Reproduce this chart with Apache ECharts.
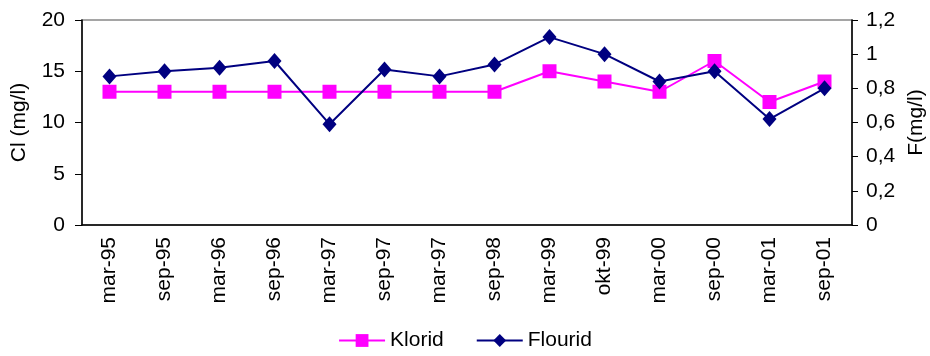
<!DOCTYPE html>
<html>
<head>
<meta charset="utf-8">
<script src="https://cdn.jsdelivr.net/npm/echarts@6/dist/echarts.min.js"></script>
<style>html,body{margin:0;padding:0;background:#fff}#c{width:930px;height:356px}</style>
</head>
<body>
<div id="c"></div>
<script>
const categories = ['mar-95','sep-95','mar-96','sep-96','mar-97','sep-97','mar-97','sep-98','mar-99','okt-99','mar-00','sep-00','mar-01','sep-01'];
const klorid = [13,13,13,13,13,13,13,13,15,14,13,16,12,14];
const flourid = [0.87,0.90,0.92,0.96,0.59,0.91,0.87,0.94,1.10,1.00,0.84,0.90,0.62,0.80];
const leftTicks = {min:0, max:20, interval:5};
const rightTicks = {min:0, max:1.2, interval:0.2};

const FONT = 'Liberation Sans, Arial, sans-serif';
const FS = 21;
const chart = echarts.init(document.getElementById('c'));
const axisTxt = {color:'#000', fontFamily:FONT, fontSize:FS};
chart.setOption({
  animation:false,
  grid:{left:82, right:78, top:20, bottom:131, show:true, borderColor:'#888', borderWidth:1.5, outerBoundsMode:'none', containLabel:false},
  legend:{
    bottom:0, left:'center', itemWidth:46, itemHeight:16, itemGap:32,
    textStyle:{color:'#000', fontFamily:FONT, fontSize:FS},
    data:['Klorid','Flourid']
  },
  xAxis:{
    type:'category', data:categories, boundaryGap:true,
    axisLine:{lineStyle:{color:'#000', width:1.5}},
    axisTick:{length:7, lineStyle:{color:'#000'}},
    axisLabel:Object.assign({rotate:90, interval:0, margin:12}, axisTxt)
  },
  yAxis:[{
    type:'value', min:leftTicks.min, max:leftTicks.max, interval:leftTicks.interval,
    name:'Cl (mg/l)', nameLocation:'middle', nameGap:52, nameRotate:90,
    nameTextStyle:{color:'#000', fontFamily:FONT, fontSize:FS},
    axisLine:{show:true, lineStyle:{color:'#000', width:1.5}},
    axisTick:{show:true, length:7, lineStyle:{color:'#000'}},
    splitLine:{show:false},
    axisLabel:Object.assign({margin:17}, axisTxt)
  },{
    type:'value', min:rightTicks.min, max:rightTicks.max, interval:rightTicks.interval, position:'right',
    name:'F(mg/l)', nameLocation:'middle', nameGap:54, nameRotate:90,
    nameTextStyle:{color:'#000', fontFamily:FONT, fontSize:FS},
    axisLine:{show:true, lineStyle:{color:'#000', width:1.5}},
    axisTick:{show:true, length:6, lineStyle:{color:'#000'}},
    splitLine:{show:false},
    axisLabel:Object.assign({margin:14, formatter:function(v){return parseFloat(v.toFixed(1)).toString().replace('.',',');}}, axisTxt)
  }],
  series:[{
    name:'Klorid', type:'line', yAxisIndex:0, data:klorid,
    symbol:'rect', symbolSize:14,
    lineStyle:{color:'#FF00FF', width:2}, itemStyle:{color:'#FF00FF'}
  },{
    name:'Flourid', type:'line', yAxisIndex:1, data:flourid,
    symbol:'diamond', symbolSize:[14,16],
    lineStyle:{color:'#000080', width:2}, itemStyle:{color:'#000080'}
  }]
});
</script>
</body>
</html>
